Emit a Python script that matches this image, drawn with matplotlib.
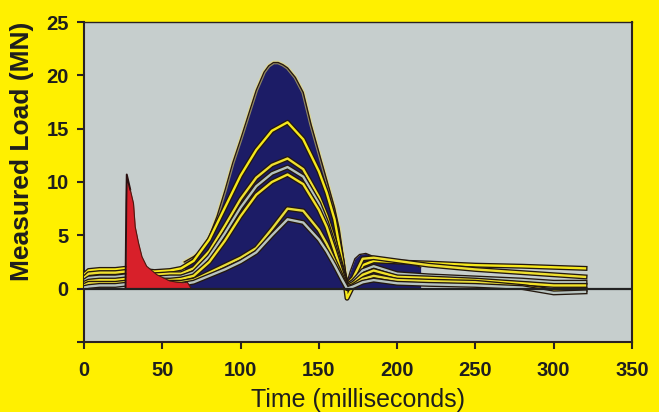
# Measured load vs. time for several load tests

import matplotlib.pyplot as plt
import matplotlib.patheffects as pe
import numpy as np

plt.rcParams['font.family'] = ['Liberation Sans', 'DejaVu Sans']

# time grid shared by the inner test curves (ms)
t_grid = [0, 3, 10, 20, 26, 45, 55, 62, 70, 80, 90, 100, 110, 120, 130, 140,
          150, 155, 160, 165, 168, 172, 178, 185, 200, 220, 250, 280, 300, 320]

# load of each test curve (MN)
load_a = [1.3, 1.7, 1.8, 1.8, 1.9, 1.6, 1.7, 1.9, 2.6, 4.6, 7.6, 10.6, 13.0, 14.8, 15.6, 14.0,
          11.0, 9.0, 6.5, 2.5, -0.9, 0.3, 2.2, 2.6, 2.5, 2.4, 2.2, 2.1, 2.0, 1.9]
load_b = [1.0, 1.4, 1.5, 1.5, 1.6, 1.3, 1.4, 1.4, 1.9, 3.5, 5.9, 8.4, 10.4, 11.6, 12.2, 11.2,
          8.6, 6.8, 4.5, 1.8, 0.4, 1.0, 2.8, 2.9, 2.6, 2.2, 1.8, 1.5, 1.3, 1.1]
load_c = [0.7, 1.0, 1.1, 1.1, 1.2, 1.0, 1.1, 1.1, 1.5, 3.0, 5.2, 7.6, 9.6, 10.8, 11.4, 10.5,
          8.0, 6.2, 4.0, 1.6, 0.3, 0.7, 1.7, 2.1, 1.4, 1.2, 1.0, 0.8, 0.6, 0.6]
load_d = [0.5, 0.7, 0.8, 0.8, 0.9, 0.8, 0.8, 0.9, 1.2, 2.5, 4.5, 6.8, 8.8, 10.0, 10.7, 9.8,
          7.4, 5.8, 3.6, 1.3, 0.2, 0.5, 1.3, 1.7, 1.1, 1.0, 0.8, 0.5, 0.3, 0.3]
load_e = [0.3, 0.5, 0.5, 0.5, 0.6, 0.6, 0.6, 0.6, 0.8, 1.5, 2.2, 2.9, 3.8, 5.6, 7.5, 7.3,
          5.5, 4.2, 2.6, 1.0, 0.1, 0.3, 0.9, 1.2, 0.8, 0.7, 0.6, 0.2, -0.2, -0.1]
load_f = [0.1, 0.2, 0.3, 0.3, 0.4, 0.4, 0.4, 0.4, 0.6, 1.2, 1.8, 2.5, 3.4, 5.0, 6.5, 6.2,
          4.6, 3.5, 2.2, 0.8, 0.0, 0.2, 0.6, 0.8, 0.5, 0.4, 0.3, 0.1, -0.4, -0.3]

# outer envelope of the main pulse (navy area)
env_t = [64, 70, 75, 80, 85, 90, 95, 100, 105, 110, 115, 118, 121, 124, 127, 130, 135, 140,
         145, 150, 155, 160, 163, 166, 168, 170, 173, 176, 180, 185, 190, 200, 210, 215]
env_v = [2.5, 3.0, 3.6, 4.9, 6.8, 9.2, 11.8, 14.0, 16.3, 18.6, 20.3, 20.9, 21.2, 21.2, 21.0, 20.7, 19.8, 18.4,
         15.4, 12.8, 10.2, 7.6, 5.6, 2.6, 0.6, 1.6, 2.8, 3.2, 3.3, 3.0, 2.8, 2.5, 2.3, 2.0]

# first (impact) spike, red area
spike_t = [26.5, 27, 27.3, 29.5, 31.6, 32.7, 34.8, 37, 40, 46.6, 55, 63.5, 66, 68.5]
spike_v = [0, 8.0, 10.7, 9.3, 8.0, 5.8, 4.3, 3.0, 2.1, 1.3, 0.7, 0.55, 0.6, 0.0]

curves = [load_a, load_b, load_c, load_d, load_e, load_f]
curve_colors = ['#F6E81C', '#EFE030', '#B4C2BE', '#F2E228', '#E8DC3A', '#B8C4C0']

fig = plt.figure(figsize=(6.59, 4.12), dpi=100, facecolor='#FFF000')
ax = fig.add_axes([0.1275, 0.17, 0.8315, 0.7766])
ax.set_facecolor('#C6CECD')

# navy area under the main pulse
ax.fill_between(env_t, 0, env_v, color='#1C1C66', zorder=2, lw=0)
ax.plot(env_t[:25], env_v[:25], color='#F0E060', lw=2.6, alpha=0.55, zorder=2.5)
ax.plot(env_t, env_v, color='#2A1A10', lw=1.0, zorder=2.6)

# test curves, yellow / grey lines with a dark rim
for vals, col in zip(curves, curve_colors):
    ax.plot(t_grid, vals, color=col, lw=1.7, zorder=3,
            path_effects=[pe.Stroke(linewidth=3.6, foreground='#24180E'), pe.Normal()])

# red spike on top
ax.fill_between(spike_t, 0, spike_v, color='#D8202A', zorder=4, lw=0)
ax.plot(spike_t[:4], spike_v[:4], color='#2A1010', lw=1.4, zorder=4.5)
ax.plot(spike_t[3:], spike_v[3:], color='#4A1A10', lw=0.8, zorder=4.5)

ax.axhline(0, color='#222222', lw=1.6, zorder=5)

ax.set_xlim(0, 350)
ax.set_ylim(-5, 25)
ax.set_xticks(np.arange(0, 351, 50))
ax.set_yticks(np.arange(-5, 26, 5))
ax.set_yticklabels([''] + [str(v) for v in range(0, 26, 5)])

for side in ['left', 'bottom', 'right', 'top']:
    ax.spines[side].set_color('#2A2222')
    ax.spines[side].set_linewidth(1.5)
ax.spines['top'].set_linewidth(1.0)

ax.tick_params(direction='out', length=5, width=1.5, color='#2A2222',
               labelsize=14.5, labelcolor='#1E1E1E')
ax.tick_params(axis='x', pad=9)
ax.tick_params(axis='y', pad=6)
for lab in ax.get_xticklabels() + ax.get_yticklabels():
    lab.set_fontweight('bold')

fig.text(358 / 659, 1 - 400 / 412, 'Time (milliseconds)', fontsize=18, color='#1E1E1E',
         ha='center', va='center')
fig.text(22 / 659, 1 - 151 / 412, 'Measured Load (MN)', fontsize=19, fontweight='bold',
         color='#1E1E1E', rotation=90, ha='center', va='center')

plt.savefig('out.png', dpi=100, facecolor=fig.get_facecolor())
plt.close()
